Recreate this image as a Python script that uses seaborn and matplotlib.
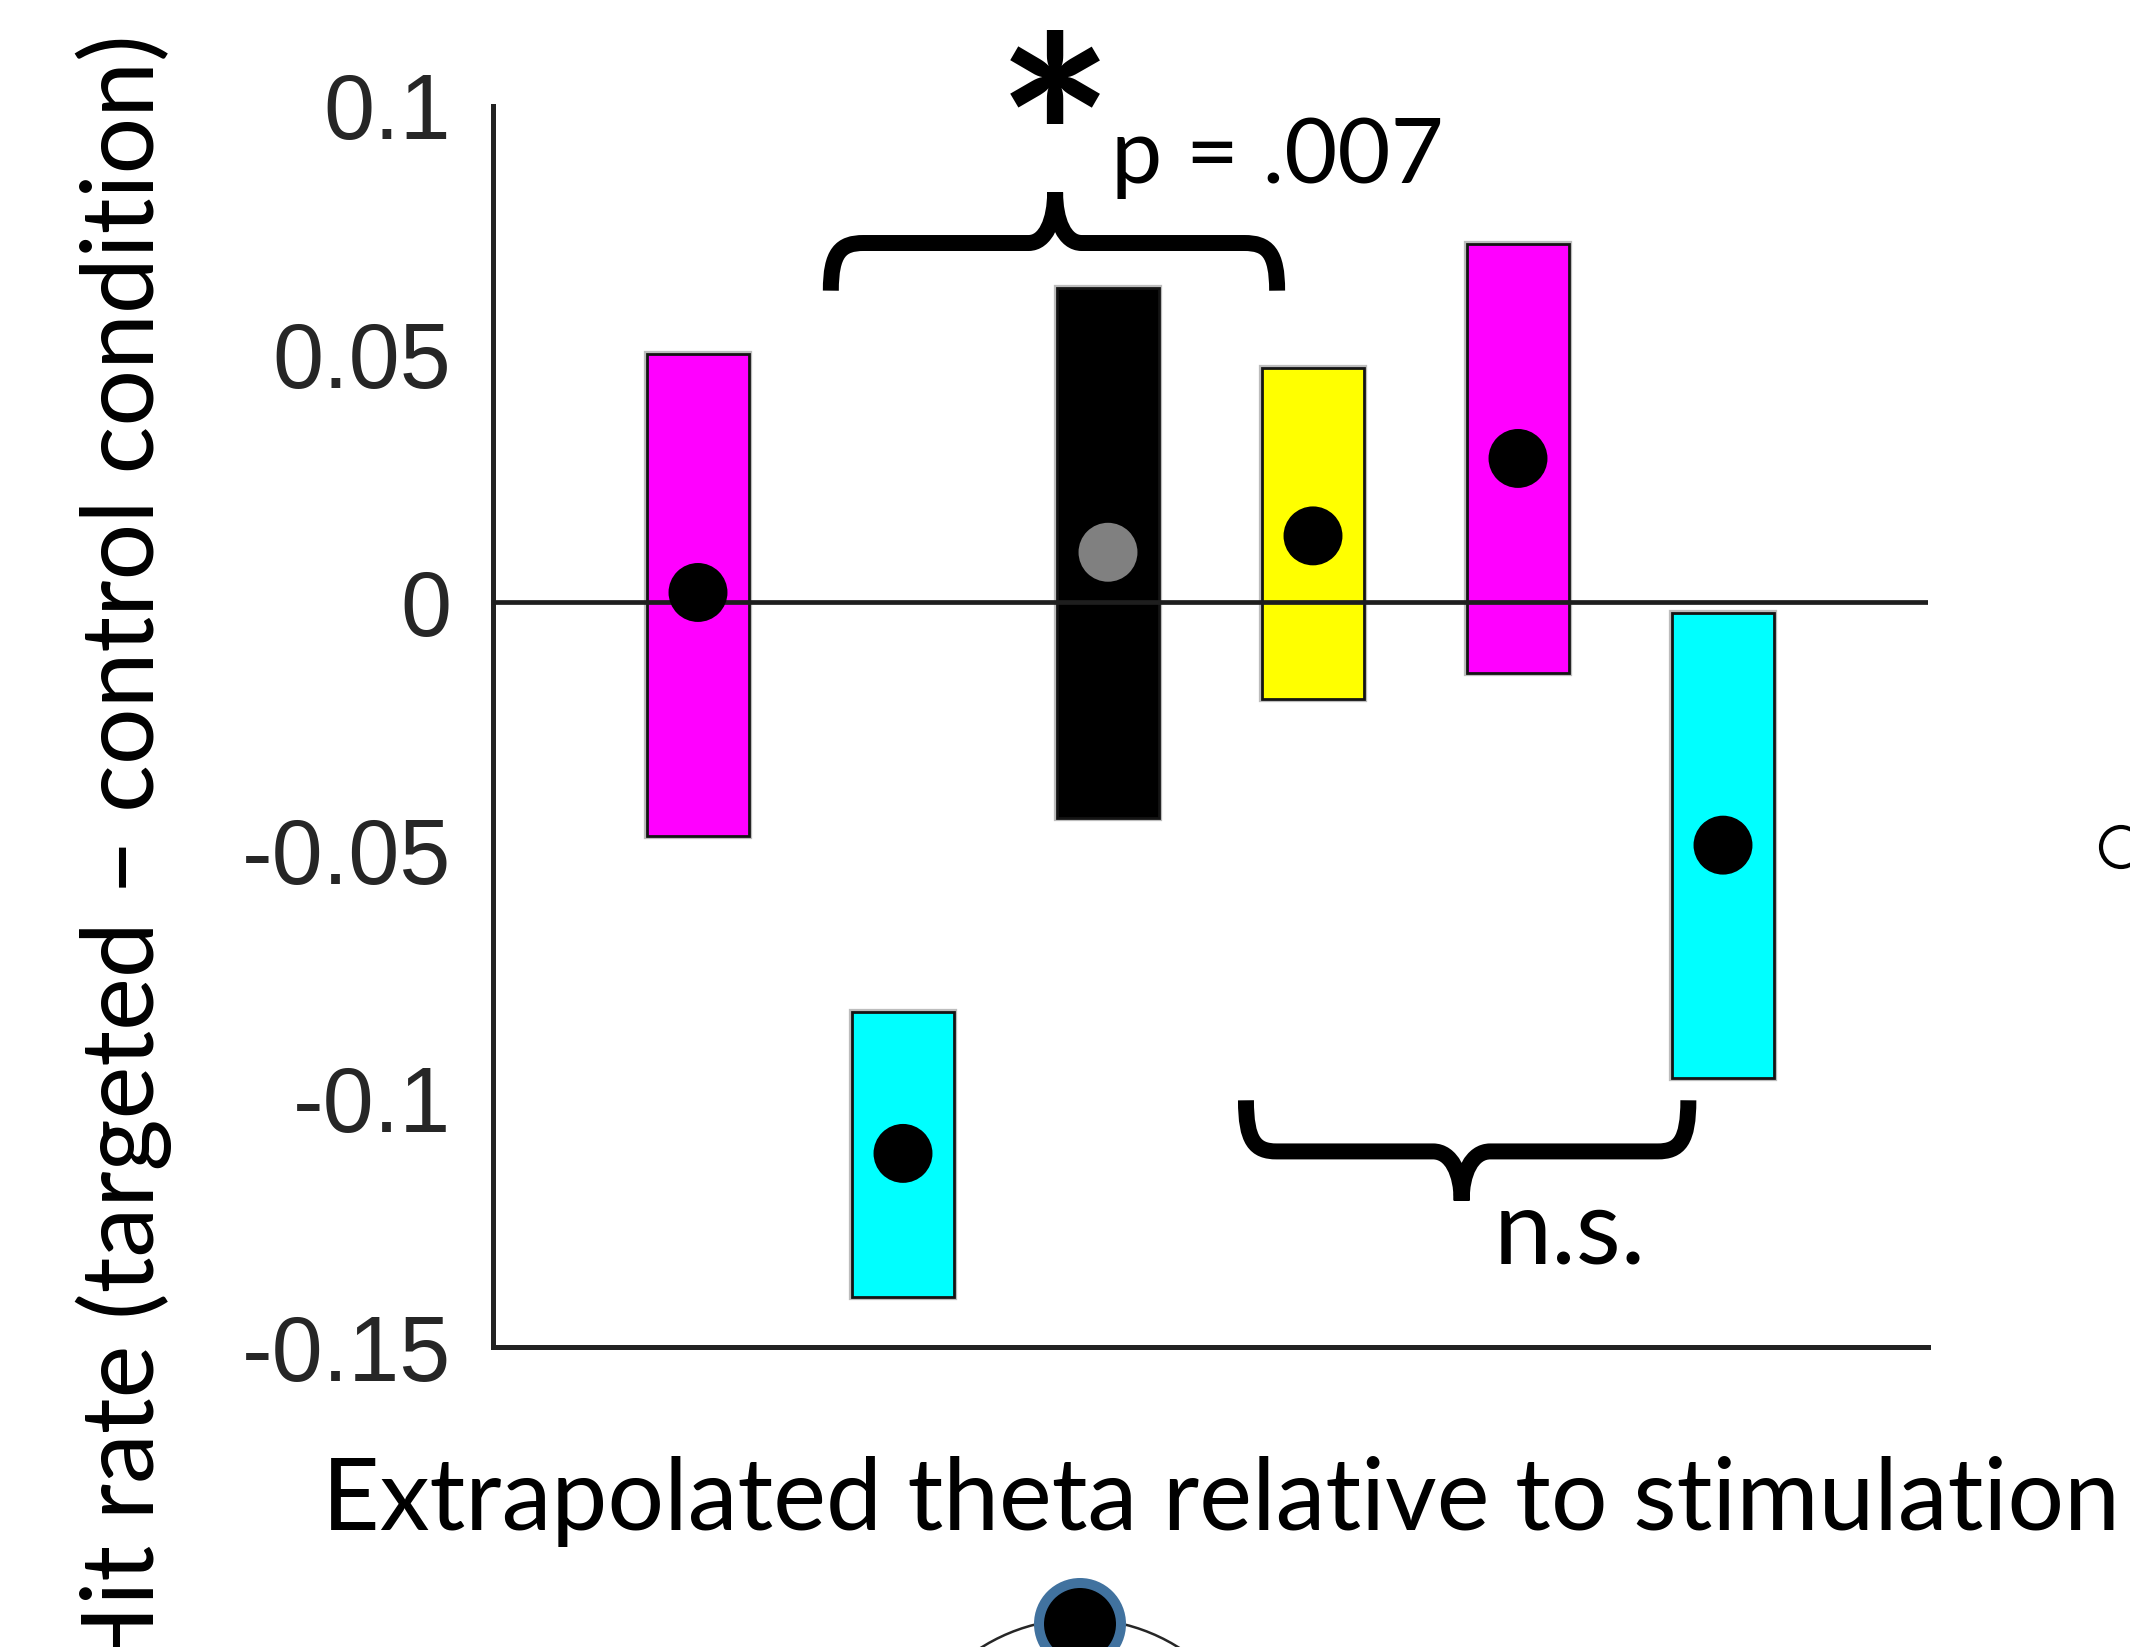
import numpy as np
import pandas as pd
import matplotlib
matplotlib.use("Agg")
import matplotlib.pyplot as plt
import seaborn as sns
from matplotlib.path import Path
from matplotlib.patches import PathPatch, Circle
import matplotlib.patheffects as pe

# ---------------- data ----------------
positions = [1, 2, 3, 4, 5, 6]
bar_top = [0.0500, -0.0825, 0.0634, 0.0473, 0.0721, -0.0022]
bar_bottom = [-0.0470, -0.1400, -0.0434, -0.0194, -0.0142, -0.0959]
point_value = [0.0020, -0.1110, 0.0101, 0.0134, 0.0290, -0.0489]
bar_colors = ["#FF00FF", "#00FFFF", "#000000", "#FFFF00", "#FF00FF", "#00FFFF"]
point_colors = ["#000000", "#000000", "#808080", "#000000", "#000000", "#000000"]
yticks = [-0.15, -0.1, -0.05, 0, 0.05, 0.1]
ytick_labels = ["-0.15", "-0.1", "-0.05", "0", "0.05", "0.1"]
x_label = "Extrapolated theta relative to stimulation"
y_label = "Hit rate (targeted \u2013 control condition)"
sig_label = "p = .007"
ns_label = "n.s."

# ---------------- style ----------------
sns.set_style("white")
plt.rcParams["font.family"] = ["Liberation Sans", "DejaVu Sans"]
plt.rcParams["axes.unicode_minus"] = False

W, H, DPI = 2130, 1647, 100
fig = plt.figure(figsize=(W / DPI, H / DPI), dpi=DPI)
fig.patch.set_facecolor("white")

def fx(px):
    return px / W

def fy(py):
    return 1 - py / H

ax = fig.add_axes([fx(493), fy(1347), fx(1928) - fx(493), fy(106) - fy(1347)])
ax.set_facecolor("white")

# floating bars
heights = [t - b for t, b in zip(bar_top, bar_bottom)]
ax.bar(positions, heights, bottom=bar_bottom, width=0.5, color=bar_colors,
       edgecolor="#141414", linewidth=2.0, zorder=2,
       path_effects=[pe.Stroke(linewidth=4.5, foreground="#bdbdbd"), pe.Normal()])

# zero line
ax.axhline(0, color="#1e1e1e", lw=3.4, zorder=3)

# points
df = pd.DataFrame({"pos": positions, "val": point_value, "col": point_colors})
sns.scatterplot(data=df, x="pos", y="val", hue="col",
                palette={c: c for c in set(point_colors)},
                s=1800, edgecolor="none", linewidth=0, legend=False,
                zorder=5, ax=ax)

ax.set_xlim(0, 7)
ax.set_ylim(-0.15, 0.1)
ax.set_yticks(yticks)
ax.set_yticklabels(ytick_labels)
ax.set_xticks([])
ax.set_xlabel("")
ax.set_ylabel("")
for s in ["top", "right"]:
    ax.spines[s].set_visible(False)
for s in ["left", "bottom"]:
    ax.spines[s].set_color("#222222")
    ax.spines[s].set_linewidth(3.6)
ax.tick_params(axis="y", direction="in", length=13, width=3.4, color="#222222",
               pad=30, labelsize=66, labelcolor="#262626")

# curly braces (data coords)
def brace(x0, x1, xt, y_end, y_h, y_tip, rc, rt, lw):
    yc = y_end + 0.8 * (y_h - y_end)
    ytc = y_h + 0.45 * (y_tip - y_h)
    verts_l = [(x0, y_end), (x0, yc), (x0 + 0.3 * rc, y_h), (x0 + rc, y_h),
               (xt - rt, y_h),
               (xt - 0.35 * rt, y_h), (xt, ytc), (xt, y_tip)]
    codes_l = [Path.MOVETO, Path.CURVE4, Path.CURVE4, Path.CURVE4,
               Path.LINETO,
               Path.CURVE4, Path.CURVE4, Path.CURVE4]
    verts_r = [(x1, y_end), (x1, yc), (x1 - 0.3 * rc, y_h), (x1 - rc, y_h),
               (xt + rt, y_h),
               (xt + 0.35 * rt, y_h), (xt, ytc), (xt, y_tip)]
    path = Path(verts_l + verts_r, codes_l + codes_l)
    ax.add_patch(PathPatch(path, fill=False, edgecolor="black", lw=lw,
                           capstyle="butt", joinstyle="round", zorder=6,
                           clip_on=False))

brace(1.648, 3.825, 2.742, 0.0628, 0.0724, 0.0826, 0.16, 0.13, 11.5)
brace(3.673, 5.831, 4.725, -0.1003, -0.1106, -0.1205, 0.15, 0.14, 11.5)

# annotation texts
ann_font = ["Lato", "DejaVu Sans"]
fig.text(fx(1055), fy(240), "*", family=ann_font, fontsize=200,
         fontweight="bold", ha="center", va="baseline", color="black")
fig.text(fx(1111), fy(183), sig_label, family=ann_font, fontsize=66,
         ha="left", va="baseline", color="black")
fig.text(fx(1494), fy(1263), ns_label, family=ann_font, fontsize=75,
         ha="left", va="baseline", color="black")

# axis titles (clipped at the figure border like the reference crop)
fig.text(fx(322), fy(1530), x_label, family=ann_font, fontsize=72,
         ha="left", va="baseline", color="black")
fig.text(fx(154), fy(34), y_label, family=ann_font, fontsize=72,
         rotation=90, rotation_mode="anchor", ha="right", va="baseline",
         color="black")

# partial schematic elements at the borders of the crop
tr = fig.dpi_scale_trans
fig.add_artist(Circle((1080 / DPI, (H - 1804) / DPI), 1.85, transform=tr,
                      fill=False, edgecolor="#262626", lw=1.8, zorder=1))
fig.add_artist(Circle((1080 / DPI, (H - 1624) / DPI), 0.41, transform=tr,
                      facecolor="black", edgecolor="#41729F", lw=7.2, zorder=2))
fig.add_artist(Circle((2121 / DPI, (H - 847) / DPI), 0.20, transform=tr,
                      fill=False, edgecolor="black", lw=3.0, zorder=2))

fig.savefig("out.png", dpi=DPI, facecolor="white")
